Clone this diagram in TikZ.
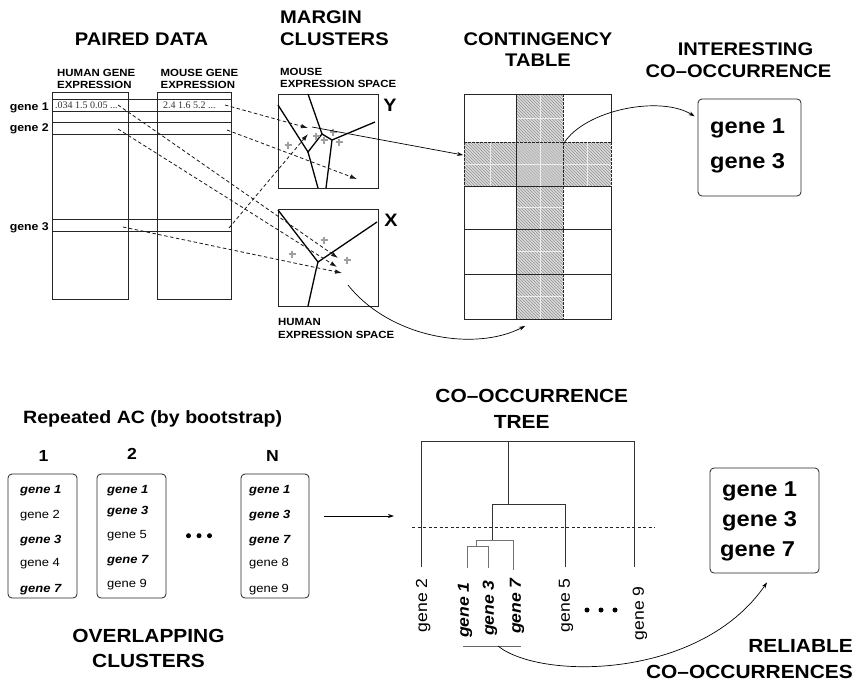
\documentclass[tikz,border=0pt]{standalone}
\usepackage{fontspec}
\setmainfont{Liberation Sans}[FakeStretch=1.1]
\newfontfamily\datafont{Liberation Serif}
\usetikzlibrary{arrows.meta,patterns,calc}
\newcommand\fsz[2]{\fontsize{#1}{#2}\selectfont}
\begin{document}
\begin{tikzpicture}[x=1pt,y=-1pt,
  ttl/.style={inner sep=0pt,font=\bfseries\fsz{18.3}{22}},
  ttlb/.style={inner sep=0pt,font=\bfseries\fsz{19}{22}},
  sml/.style={inner sep=0pt,font=\bfseries\fsz{10.4}{12}},
  glbl/.style={inner sep=0pt,font=\bfseries\fsz{11.2}{13}},
  big/.style={inner sep=0pt,font=\bfseries\fsz{18}{20}},
  dat/.style={inner sep=0pt,font=\datafont\fsz{10}{11},text=black!80},
  lst/.style={inner sep=0pt,font=\fsz{11.8}{14}},
  lstb/.style={inner sep=0pt,font=\bfseries\itshape\fsz{11.8}{14}},
  leaf/.style={inner sep=0pt,font=\fsz{16}{18},rotate=90,anchor=east},
  leafb/.style={inner sep=0pt,font=\bfseries\itshape\fsz{16}{18},rotate=90,anchor=east},
  gbig/.style={inner sep=0pt,font=\bfseries\fsz{21.5}{24}},
  rbox/.style={draw=black!85,line width=0.8pt,rounded corners=4pt,inner sep=0pt},
  frame/.style={draw=black!85,line width=0.8pt},
  vor/.style={line width=1.3pt,black},
  dsh/.style={draw=black!90,line width=0.8pt,dash pattern=on 3.5pt off 2.5pt,-{Latex[length=7pt,width=4.5pt]}},
  arr/.style={draw=black,line width=0.7pt,-{Stealth[length=6pt,width=4pt]}},
  pls/.pic={\draw[gray!75,line width=1.2pt] (-3.5,0)--(3.5,0) (0,-3.5)--(0,3.5);},
  blt/.style={circle,fill=black,inner sep=0pt,minimum size=5pt},
  hatch/.style={fill=gray!28,postaction={pattern=north west lines,pattern color=gray!85}},
  treeA/.style={draw=black!80,line width=0.9pt},
  treeB/.style={draw=black!55,line width=0.9pt},
]
\useasboundingbox (0,0) rectangle (858,683);
\fill[white] (0,0) rectangle (858,683);

%================ PAIRED DATA =================
\node[ttl,anchor=base] (tPaired) at (141.5,45) {PAIRED DATA};
\node[sml,anchor=base west] (hl1) at (57,76) {HUMAN GENE};
\node[sml,anchor=base west] (hl2) at (57,88) {EXPRESSION};
\node[sml,anchor=base west] (ml1) at (160.5,76) {MOUSE GENE};
\node[sml,anchor=base west] (ml2) at (160.5,88) {EXPRESSION};

\draw[frame] (52,92) rectangle (128,299);
\draw[frame] (157,92) rectangle (231,299);
\draw[frame] (52,99) rectangle (231,111);
\draw[frame] (52,122) rectangle (231,134);
\draw[frame] (52,219) rectangle (231,231);

\node[glbl,anchor=base east] (gl1) at (49,110) {gene 1};
\node[glbl,anchor=base east] (gl2) at (49,131.5) {gene 2};
\node[glbl,anchor=base east] (gl3) at (49,230.5) {gene 3};
\node[dat,anchor=base west] (d1) at (55,108) {.034 1.5 0.05 ...};
\node[dat,anchor=base west] (d2) at (163,108) {2.4 1.6 5.2 ...};

%================ MARGIN CLUSTERS =================
\node[ttl,anchor=base west] (tMar1) at (280,23) {MARGIN};
\node[ttl,anchor=base west] (tMar2) at (280,45) {CLUSTERS};
\node[sml,anchor=base west] (ms1) at (280,75) {MOUSE};
\node[sml,anchor=base west] (ms2) at (280,87) {EXPRESSION SPACE};
\node[big] (Ylab) at (390,105) {Y};
\node[big] (Xlab) at (391,220) {X};
\node[sml,anchor=base west] (hs1) at (278,325) {HUMAN};
\node[sml,anchor=base west] (hs2) at (278,338) {EXPRESSION SPACE};

\draw[frame] (278,94) rectangle (378,188);
\draw[frame] (278,209) rectangle (378,306);

% Voronoi cells, mouse space (Y)
\draw[vor] (278,105)--(308,152)--(322,134)--(308,94);
\draw[vor] (322,134)--(332,140)--(375,122);
\draw[vor] (308,152)--(318,188);
\draw[vor] (332,140)--(326,188);
% Voronoi cells, human space (X)
\draw[vor] (278,210)--(318,262)--(377,222);
\draw[vor] (318,262)--(316,270)--(308,306);

\pic at (288,145) {pls};
\pic at (316,136) {pls};
\pic at (324,140) {pls};
\pic at (333,132) {pls};
\pic at (339,142) {pls};
\pic at (324,240) {pls};
\pic at (292,254) {pls};
\pic at (347,260) {pls};

% named ends of the dashed connectors
\coordinate (hg1) at (118,105);
\coordinate (hg2) at (118,129);
\coordinate (hg3) at (123,227);
\coordinate (mg1) at (225,105);
\coordinate (mg2) at (227,130);
\coordinate (mg3) at (229,228);
\coordinate (ya) at (308,128);
\coordinate (yb) at (357,179);
\coordinate (yc) at (308,134);
\coordinate (xa) at (338,258);
\coordinate (xb) at (337,267);
\coordinate (xc) at (342,273);

\draw[dsh] (mg1) -- (ya);
\draw[dsh] (mg2) -- (yb);
\draw[dsh] (mg3) -- (yc);
\draw[dsh] (hg1) -- (xa);
\draw[dsh] (hg2) -- (xb);
\draw[dsh] (hg3) -- (xc);

%================ CONTINGENCY TABLE =================
\node[ttl,anchor=base] (tCon1) at (538,45) {CONTINGENCY};
\node[ttl,anchor=base] (tCon2) at (538,66) {TABLE};

\path[hatch] (516,94) rectangle (563,319);
\path[hatch] (464,142) rectangle (611,186);
\fill[gray!45,opacity=0.6] (516,142) rectangle (563,186);
\draw[white,line width=0.4pt,opacity=0.7] (540,94)--(540,319) (490,142)--(490,186) (587,142)--(587,186)
  (464,164)--(611,164) (516,118)--(563,118) (516,207.5)--(563,207.5)
  (516,251.5)--(563,251.5) (516,296.5)--(563,296.5);

\draw[frame] (464,142) -- (464,94) -- (611,94) -- (611,142);
\draw[frame] (464,186) -- (464,319) -- (611,319) -- (611,186);
\draw[frame] (516,94) -- (516,319) (464,186) -- (611,186) (464,229) -- (611,229) (464,274) -- (611,274);
\draw[frame,dash pattern=on 2.5pt off 1.5pt] (464,142) -- (464,186) (611,142) -- (611,186) (464,142) -- (611,142) (563,94) -- (563,319);

\coordinate (ys) at (312,127);
\coordinate (ctl) at (463,155);
\coordinate (xs) at (348,285);
\coordinate (ctb) at (525,326);
\coordinate (ctc) at (564,143);

\draw[arr] (ys) -- (ctl);
\draw[arr] (xs) .. controls (390,338) and (475,352) .. (ctb);

%================ INTERESTING CO-OCCURRENCE =================
\node[ttl,anchor=base] (tInt1) at (745.5,55) {INTERESTING};
\node[ttl,anchor=base] (tInt2) at (738.5,77) {CO–OCCURRENCE};
\node[rbox,minimum width=103pt,minimum height=97pt] (ibox) at (749.5,147.5) {};
\node[gbig,anchor=base west] (ig1) at (710,133) {gene 1};
\node[gbig,anchor=base west] (ig3) at (710,168) {gene 3};

\draw[arr] (ctc) .. controls (585,110) and (660,95) .. ([xshift=-3pt]ibox.149);

%================ OVERLAPPING CLUSTERS =================
\node[ttlb,anchor=base west,font=\bfseries\fsz{17.8}{22}] (tRep) at (23,423.5) {Repeated AC (by bootstrap)};
\node[ttlb,anchor=base,font=\bfseries\fsz{16}{18}] (n1) at (43.5,461.5) {1};
\node[ttlb,anchor=base,font=\bfseries\fsz{16}{18}] (n2) at (132,459) {2};
\node[ttlb,anchor=base,font=\bfseries\fsz{16}{18}] (nN) at (272.5,461.5) {N};

\node[rbox,minimum width=69pt,minimum height=124pt] (b1) at (42.5,536) {};
\node[rbox,minimum width=69pt,minimum height=124pt] (b2) at (131.5,536) {};
\node[rbox,minimum width=68pt,minimum height=124pt] (bN) at (275,536) {};

\node[lstb,anchor=base west] (b1g1) at (20,493) {gene 1};
\node[lst ,anchor=base west] (b1g2) at (20,518) {gene 2};
\node[lstb,anchor=base west] (b1g3) at (20,543) {gene 3};
\node[lst ,anchor=base west] (b1g4) at (20,566.5) {gene 4};
\node[lstb,anchor=base west] (b1g7) at (20,592) {gene 7};

\node[lstb,anchor=base west] (b2g1) at (107,493) {gene 1};
\node[lstb,anchor=base west] (b2g3) at (107,514.5) {gene 3};
\node[lst ,anchor=base west] (b2g5) at (107,538.5) {gene 5};
\node[lstb,anchor=base west] (b2g7) at (107,563) {gene 7};
\node[lst ,anchor=base west] (b2g9) at (107,587) {gene 9};

\node[lstb,anchor=base west] (bNg1) at (249,493) {gene 1};
\node[lstb,anchor=base west] (bNg3) at (249,518) {gene 3};
\node[lstb,anchor=base west] (bNg7) at (249,543) {gene 7};
\node[lst ,anchor=base west] (bNg8) at (249,566.5) {gene 8};
\node[lst ,anchor=base west] (bNg9) at (249,592) {gene 9};

\node[blt] (dA1) at (188.5,535.7) {};
\node[blt] (dA2) at (199,535.7) {};
\node[blt] (dA3) at (209.5,535.7) {};

\node[ttlb,anchor=base] (tOv1) at (148.5,642) {OVERLAPPING};
\node[ttlb,anchor=base] (tOv2) at (148.5,667) {CLUSTERS};

\coordinate (as) at (324,516);
\coordinate (ae) at (394,516);
\draw[arr] (as) -- (ae);

%================ CO-OCCURRENCE TREE =================
\node[ttlb,anchor=base] (tTr1) at (531.8,402) {CO–OCCURRENCE};
\node[ttlb,anchor=base] (tTr2) at (521.7,428) {TREE};

\draw[treeA] (421,567) -- (421,441) -- (634,441) -- (634,567);
\draw[treeA] (508,441) -- (508,504);
\draw[treeA] (565,567) -- (565,504) -- (492,504) -- (492,540);
\draw[treeB] (513,570) -- (513,540) -- (476,540) -- (476,546);
\draw[treeB] (467,568) -- (467,546) -- (488,546) -- (488,568);

\draw[black!85,line width=0.8pt,dash pattern=on 3pt off 2.5pt] (412,527) -- (655,527);

\node[leaf]  (lf2) at (423.3,578) {gene 2};
\node[leafb] (lf1) at (465,582) {gene 1};
\node[leafb] (lf3) at (490,580) {gene 3};
\node[leafb] (lf7) at (517,578) {gene 7};
\node[leaf]  (lf5) at (566,578) {gene 5};
\node[leaf]  (lf9) at (640,586) {gene 9};

\node[blt] (dB1) at (587,610) {};
\node[blt] (dB2) at (601,610) {};
\node[blt] (dB3) at (615,610) {};

\draw[black!60,line width=0.9pt] (463,646) -- (521,646);
\coordinate (ul) at (498,646);

%================ RELIABLE CO-OCCURRENCES =================
\node[rbox,minimum width=109pt,minimum height=105pt] (fbox) at (764.5,520.5) {};
\node[gbig,anchor=base west] (fg1) at (722,496) {gene 1};
\node[gbig,anchor=base west] (fg3) at (722,526) {gene 3};
\node[gbig,anchor=base west] (fg7) at (720,556) {gene 7};

\node[ttlb,anchor=base east] (tRel1) at (853,652) {RELIABLE};
\node[ttlb,anchor=base east] (tRel2) at (853,678) {CO–OCCURRENCES};

\draw[arr] (ul) .. controls (540,680) and (700,680) .. ($(fbox.south)+(2.5,9)$);
\end{tikzpicture}
\end{document}
